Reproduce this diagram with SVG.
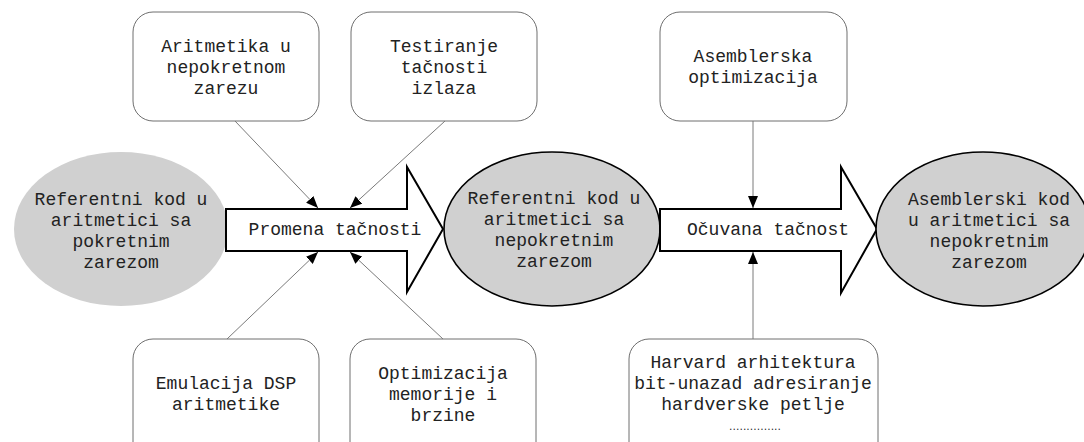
<svg xmlns="http://www.w3.org/2000/svg" width="1084" height="442" viewBox="0 0 1084 442">
  <style>
    text { font-family: "Liberation Mono", "Courier New", monospace; font-size: 18px; fill: #222; text-anchor: middle; }
    .box { fill: #fff; stroke: #6e6e6e; stroke-width: 1; }
    .ell { fill: #d0d0d0; stroke: #000; stroke-width: 1.6; }
    .ell0 { fill: #d0d0d0; stroke: none; }
    .flow { fill: #fff; stroke: #000; stroke-width: 2; stroke-linejoin: miter; }
    .link { stroke: #7a7a7a; stroke-width: 1; fill: none; marker-end: url(#tip); }
  </style>
  <defs>
    <marker id="tip" viewBox="0 0 12 10" refX="12" refY="5" markerWidth="12" markerHeight="10" markerUnits="userSpaceOnUse" orient="auto">
      <path d="M0,0 L12,5 L0,10 Z" fill="#000"/>
    </marker>
  </defs>

  <!-- stage ellipses -->
  <g id="start-float">
    <ellipse class="ell0" cx="121" cy="229" rx="107" ry="77"/>
    <text x="121" y="205">Referentni kod u</text>
    <text x="121" y="226">aritmetici sa</text>
    <text x="121" y="247">pokretnim</text>
    <text x="121" y="268">zarezom</text>
  </g>

  <!-- process arrows -->
  <g id="flow-precision">
    <path class="flow" d="M226,209 L407,209 L407,167 L443,229 L407,292 L407,251 L226,251 Z"/>
    <text x="335" y="235">Promena tačnosti</text>
  </g>

  <g id="fixed-ref">
    <ellipse class="ell" cx="552" cy="229" rx="108" ry="77"/>
    <text x="554" y="204">Referentni kod u</text>
    <text x="554" y="225">aritmetici sa</text>
    <text x="554" y="246">nepokretnim</text>
    <text x="554" y="267">zarezom</text>
  </g>

  <g id="flow-kept">
    <path class="flow" d="M660,209 L841,209 L841,167 L877,229 L841,293 L841,251 L660,251 Z"/>
    <text x="768" y="235">Očuvana tačnost</text>
  </g>

  <g id="asm-fixed">
    <ellipse class="ell" cx="983" cy="229" rx="107" ry="77"/>
    <text x="989" y="205">Asemblerski kod</text>
    <text x="989" y="226">u aritmetici sa</text>
    <text x="989" y="247">nepokretnim</text>
    <text x="989" y="268">zarezom</text>
  </g>

  <!-- influencing factors -->
  <g id="fixed-arith">
    <rect class="box" x="133" y="12" width="186" height="109" rx="20" ry="20"/>
    <text x="226" y="52">Aritmetika u</text>
    <text x="226" y="73">nepokretnom</text>
    <text x="226" y="94">zarezu</text>
  </g>

  <g id="output-test">
    <rect class="box" x="351" y="12" width="186" height="109" rx="20" ry="20"/>
    <text x="444" y="52">Testiranje</text>
    <text x="444" y="73">tačnosti</text>
    <text x="444" y="94">izlaza</text>
  </g>

  <g id="asm-opt">
    <rect class="box" x="660" y="12" width="187" height="109" rx="20" ry="20"/>
    <text x="753" y="62">Asemblerska</text>
    <text x="753" y="83">optimizacija</text>
  </g>

  <g id="dsp-emul">
    <rect class="box" x="133" y="339" width="186" height="130" rx="20" ry="20"/>
    <text x="226" y="389">Emulacija DSP</text>
    <text x="226" y="410">aritmetike</text>
  </g>

  <g id="mem-speed">
    <rect class="box" x="350" y="339" width="186" height="130" rx="20" ry="20"/>
    <text x="443" y="379">Optimizacija</text>
    <text x="443" y="400">memorije i</text>
    <text x="443" y="421">brzine</text>
  </g>

  <g id="hw-features">
    <rect class="box" x="629" y="339" width="249" height="130" rx="20" ry="20"/>
    <text x="753" y="368">Harvard arhitektura</text>
    <text x="753" y="389">bit-unazad adresiranje</text>
    <text x="753" y="410">hardverske petlje</text>
    <text x="755" y="430" style="font-size:9px" textLength="54" lengthAdjust="spacing">...............</text>
  </g>

  <!-- connectors -->
  <g id="connectors">
    <line class="link" x1="235" y1="121" x2="318" y2="208"/>
    <line class="link" x1="445" y1="121" x2="350" y2="208"/>
    <line class="link" x1="227" y1="339" x2="318" y2="252"/>
    <line class="link" x1="443" y1="339" x2="350" y2="252"/>
    <line class="link" x1="753" y1="121" x2="753" y2="208"/>
    <line class="link" x1="753" y1="339" x2="753" y2="252"/>
  </g>
</svg>
